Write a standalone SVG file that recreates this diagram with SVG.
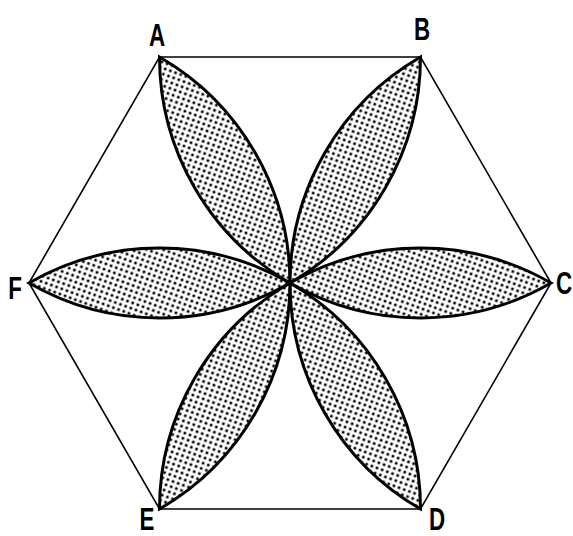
<svg xmlns="http://www.w3.org/2000/svg" width="573" height="536" viewBox="0 0 573 536">
<defs>
<pattern id="dots" width="5.5" height="5.5" patternUnits="userSpaceOnUse" patternTransform="rotate(20)">
<rect width="5.5" height="5.5" fill="#fff"/>
<rect x="1.5" y="1.5" width="2.6" height="2.6" fill="#000"/>
</pattern>
</defs>
<style>
.hex{fill:none;stroke:#000;stroke-width:1.6;stroke-linejoin:miter}
.petal{fill:url(#dots);stroke:#000;stroke-width:3;stroke-linejoin:miter}
.lbl{font-family:"Liberation Sans","DejaVu Sans",sans-serif;font-weight:bold;font-size:32px;fill:#000;text-anchor:middle}
</style>
<rect width="573" height="536" fill="#fff"/>
<g id="connectors">
<polygon class="hex" points="159.5,57 420.5,57 551,283 420.5,509 159.5,509 29,283"/>
</g>
<g id="petal-A"><path class="petal" d="M159.5,57 A261,261 0 0 1 290,283 A261,261 0 0 1 159.5,57 Z"/></g>
<g id="petal-B"><path class="petal" d="M420.5,57 A261,261 0 0 1 290,283 A261,261 0 0 1 420.5,57 Z"/></g>
<g id="petal-C"><path class="petal" d="M551,283 A261,261 0 0 1 290,283 A261,261 0 0 1 551,283 Z"/></g>
<g id="petal-D"><path class="petal" d="M420.5,509 A261,261 0 0 1 290,283 A261,261 0 0 1 420.5,509 Z"/></g>
<g id="petal-E"><path class="petal" d="M159.5,509 A261,261 0 0 1 290,283 A261,261 0 0 1 159.5,509 Z"/></g>
<g id="petal-F"><path class="petal" d="M29,283 A261,261 0 0 1 290,283 A261,261 0 0 1 29,283 Z"/></g>
<g id="node-A"><text class="lbl" transform="translate(157,46) scale(0.7,1)">A</text></g>
<g id="node-B"><text class="lbl" transform="translate(422,40) scale(0.7,1)">B</text></g>
<g id="node-C"><text class="lbl" transform="translate(564,294) scale(0.7,1)">C</text></g>
<g id="node-D"><text class="lbl" transform="translate(437,530) scale(0.7,1)">D</text></g>
<g id="node-E"><text class="lbl" transform="translate(147,530) scale(0.7,1)">E</text></g>
<g id="node-F"><text class="lbl" transform="translate(15,299) scale(0.7,1)">F</text></g>
</svg>
